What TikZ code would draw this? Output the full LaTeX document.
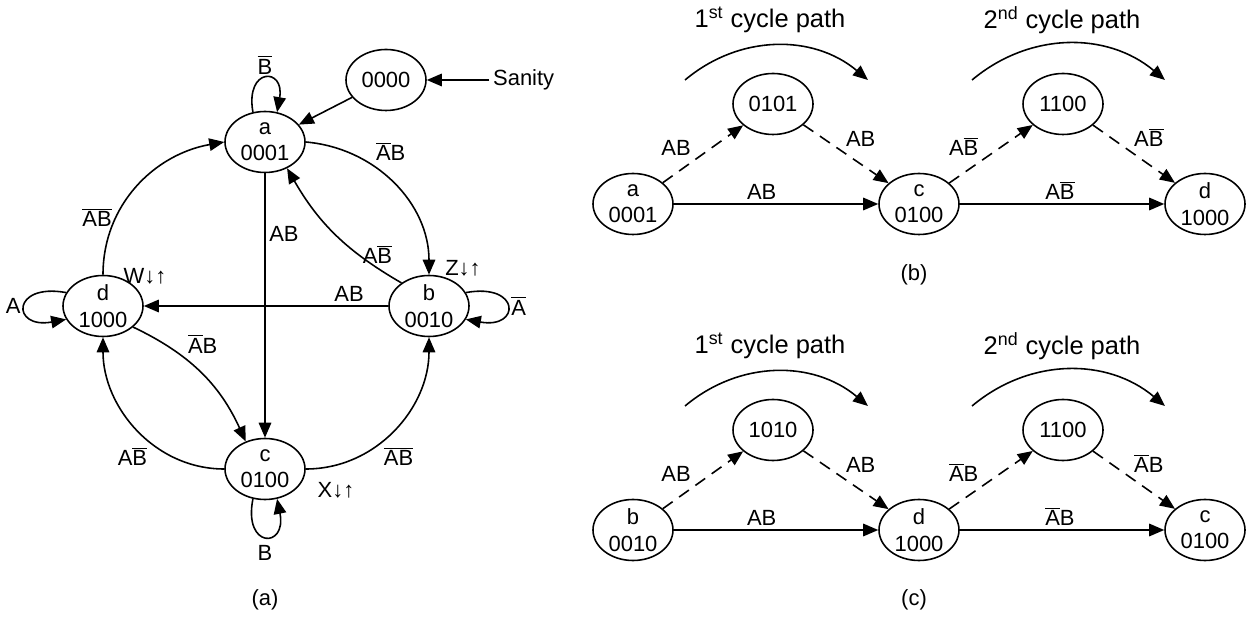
\documentclass[tikz,border=0pt]{standalone}
\usepackage{fontspec}
\setmainfont{Liberation Sans}
\usetikzlibrary{arrows.meta,positioning,shapes.geometric}
\newcommand\nb[1]{$\overline{\mbox{#1}}$}
\tikzset{
  st/.style={draw, ellipse, line width=0.9pt, minimum width=16mm, minimum height=12.2mm, inner sep=0pt, align=center, font=\fontsize{12.5}{15}\selectfont},
  arr/.style={-{Triangle[length=3mm,width=2.5mm]}, line width=0.9pt},
  darr/.style={arr, dash pattern=on 2.4mm off 1.6mm},
  lbl/.style={font=\fontsize{12.5}{14}\selectfont, inner sep=2pt},
  ttl/.style={font=\fontsize{14.5}{16}\selectfont}
}

\begin{document}
\begin{tikzpicture}[x=0.2mm,y=0.2mm]
  \useasboundingbox (0,0) rectangle (1253,617);
  % (a) full state graph
  \node[st] (a) at (265,475) {a\\0001};
  \node[st] (b) at (429,311) {b\\0010};
  \node[st] (c) at (265,148) {c\\0100};
  \node[st] (d) at (103,311) {d\\1000};
  \node[st] (init) at (386,537) {0000};
  \node[lbl, right=12.5mm of init] (san) {Sanity};
  \node[lbl] (w) at (145,341) {W↓↑};
  \node[lbl] (z) at (463,349) {Z↓↑};
  \node[lbl] (x) at (336,127) {X↓↑};
  \draw[arr] (san) -- (init);
  \draw[arr] (init) -- (a);
  \draw[arr] (a.112) .. controls +(-8,45) and +(8,45) .. node[lbl,above]{\nb{B}} (a.68);
  \draw[arr] (b.20) .. controls +(55,10) and +(55,-10) .. node[lbl,right]{\nb{A}} (b.-20);
  \draw[arr] (c.-112) .. controls +(-10,-50) and +(10,-50) .. node[lbl,below=1mm]{B} (c.-68);
  \draw[arr] (d.160) .. controls +(-55,10) and +(-55,-10) .. node[lbl,left]{A} (d.200);
  \draw[arr] (a.east) to[out=-5,in=90] node[lbl,pos=0.35,above right]{\nb{A}B} (b.north);
  \draw[arr] (b.140) to[bend left=15] node[lbl,pos=0.3,right]{A\nb{B}} (a.-50);
  \draw[arr] (a) -- node[lbl,right,pos=0.23]{AB} (c);
  \draw[arr] (b) -- node[lbl,above,pos=0.16]{AB} (d);
  \draw[arr] (d.north) to[out=90,in=190] node[lbl,left,pos=0.3]{\nb{A}\nb{B}} (a.west);
  \draw[arr] (d.-35) to[bend left=20] node[lbl,above right,pos=0.35]{\nb{A}B} (c.125);
  \draw[arr] (c.west) to[out=180,in=-90] node[lbl,below left,pos=0.4]{A\nb{B}} (d.south);
  \draw[arr] (c.east) to[out=0,in=-90] node[lbl,below right,pos=0.4]{\nb{A}\nb{B}} (b.south);
  \node[lbl] (capa) at (265,17) {(a)};

  % (b) paths from a
  \node[st] (ba) at (633,413) {a\\0001};
  \node[st] (b1) at (773,513) {0101};
  \node[st] (bc) at (919,413) {c\\0100};
  \node[st] (b2) at (1063,513) {1100};
  \node[st] (bd) at (1205,413) {d\\1000};
  \draw[darr] (ba) -- node[lbl,above left,pos=0.4]{AB} (b1);
  \draw[darr] (b1) -- node[lbl,above right,pos=0.45]{AB} (bc);
  \draw[arr] (ba) -- node[lbl,above,pos=0.43]{AB} (bc);
  \draw[darr] (bc) -- node[lbl,above left,pos=0.4]{A\nb{B}} (b2);
  \draw[darr] (b2) -- node[lbl,above right,pos=0.45]{A\nb{B}} (bd);
  \draw[arr] (bc) -- node[lbl,above,pos=0.49]{A\nb{B}} (bd);
  \coordinate (b1s) at (685,537); \coordinate (b1e) at (868,537);
  \coordinate (b2s) at (972,537); \coordinate (b2e) at (1165,537);
  \draw[arr] (b1s) to[bend left=40] (b1e);
  \draw[arr] (b2s) to[bend left=40] (b2e);
  \node[ttl] (bt1) at (770,597) {1\textsuperscript{st} cycle path};
  \node[ttl] (bt2) at (1062,597) {2\textsuperscript{nd} cycle path};
  \node[lbl] (capb) at (914,342) {(b)};

  % (c) paths from b
  \node[st] (ca) at (633,87) {b\\0010};
  \node[st] (c1) at (773,187) {1010};
  \node[st] (cc) at (919,87) {d\\1000};
  \node[st] (c2) at (1063,187) {1100};
  \node[st] (cd) at (1205,87) {c\\0100};
  \draw[darr] (ca) -- node[lbl,above left,pos=0.4]{AB} (c1);
  \draw[darr] (c1) -- node[lbl,above right,pos=0.45]{AB} (cc);
  \draw[arr] (ca) -- node[lbl,above,pos=0.43]{AB} (cc);
  \draw[darr] (cc) -- node[lbl,above left,pos=0.4]{\nb{A}B} (c2);
  \draw[darr] (c2) -- node[lbl,above right,pos=0.45]{\nb{A}B} (cd);
  \draw[arr] (cc) -- node[lbl,above,pos=0.49]{\nb{A}B} (cd);
  \coordinate (c1s) at (685,211); \coordinate (c1e) at (868,211);
  \coordinate (c2s) at (972,211); \coordinate (c2e) at (1165,211);
  \draw[arr] (c1s) to[bend left=40] (c1e);
  \draw[arr] (c2s) to[bend left=40] (c2e);
  \node[ttl] (ct1) at (770,271) {1\textsuperscript{st} cycle path};
  \node[ttl] (ct2) at (1062,271) {2\textsuperscript{nd} cycle path};
  \node[lbl] (capc) at (914,17) {(c)};
\end{tikzpicture}
\end{document}
